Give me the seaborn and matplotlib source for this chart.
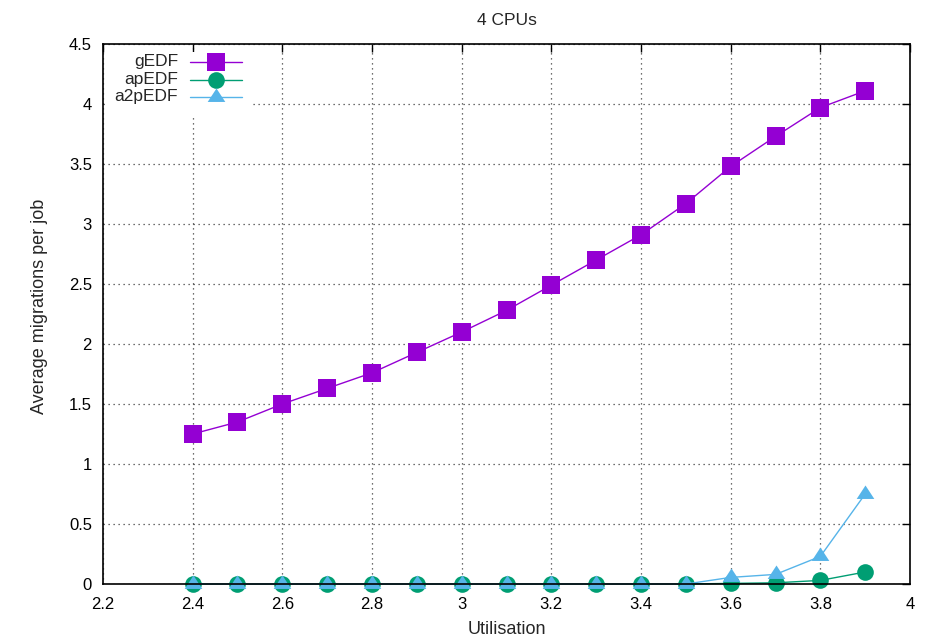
import matplotlib
matplotlib.use("Agg")
import matplotlib.pyplot as plt
from matplotlib.lines import Line2D
from matplotlib.path import Path
import seaborn as sns
import pandas as pd

# Utilisation levels and average migrations per job for each scheduler
utilisation = [2.4, 2.5, 2.6, 2.7, 2.8, 2.9, 3.0, 3.1, 3.2, 3.3, 3.4, 3.5, 3.6, 3.7, 3.8, 3.9]
gedf = [1.25, 1.35, 1.50, 1.63, 1.76, 1.93, 2.10, 2.28, 2.49, 2.70, 2.91, 3.17, 3.48, 3.73, 3.97, 4.11]
apedf = [0.0, 0.0, 0.0, 0.0, 0.0, 0.0, 0.0, 0.0, 0.0, 0.0, 0.0, 0.0, 0.005, 0.01, 0.03, 0.10]
a2pedf = [0.0, 0.0, 0.0, 0.0, 0.0, 0.0, 0.0, 0.0, 0.0, 0.0, 0.0, 0.0, 0.055, 0.08, 0.23, 0.75]

series_names = ["gEDF", "apEDF", "a2pEDF"]
series_values = [gedf, apedf, a2pedf]
series_colors = ["#9400D3", "#009E73", "#56B4E9"]

# Triangle centred on its centroid, like gnuplot's point type 9
triangle = Path([(0, 8.7), (-8.5, -4.3), (8.5, -4.3), (0, 8.7)],
                [Path.MOVETO, Path.LINETO, Path.LINETO, Path.CLOSEPOLY])
series_markers = ["s", "o", triangle]
series_sizes = [12.5, 12.0, 13.0]

x_ticks = [2.2, 2.4, 2.6, 2.8, 3.0, 3.2, 3.4, 3.6, 3.8, 4.0]
x_tick_labels = ["2.2", "2.4", "2.6", "2.8", "3", "3.2", "3.4", "3.6", "3.8", "4"]
y_ticks = [0, 0.5, 1, 1.5, 2, 2.5, 3, 3.5, 4, 4.5]
y_tick_labels = ["0", "0.5", "1", "1.5", "2", "2.5", "3", "3.5", "4", "4.5"]

sns.set_style("white")
plt.rcParams["font.family"] = ["Liberation Sans", "DejaVu Sans"]
plt.rcParams["font.size"] = 12

fig = plt.figure(figsize=(9.27, 6.37), dpi=100)
ax = fig.add_axes([0.1111, 0.0832, 0.8706, 0.8477])

df = pd.DataFrame({"Utilisation": utilisation})
for name, vals in zip(series_names, series_values):
    df[name] = vals

for i, (name, color, marker, ms) in enumerate(zip(series_names, series_colors,
                                                  series_markers, series_sizes)):
    sns.lineplot(data=df, x="Utilisation", y=name, ax=ax, color=color,
                 marker=marker, markersize=ms, markeredgewidth=0,
                 linewidth=1.0, clip_on=False, zorder=3 + i, legend=False)

ax.set_xlim(2.2, 4.0)
ax.set_ylim(0, 4.5)
ax.set_xticks(x_ticks)
ax.set_xticklabels(x_tick_labels)
ax.set_yticks(y_ticks)
ax.set_yticklabels(y_tick_labels)

ax.tick_params(axis="both", which="both", direction="in", length=6, width=1,
               color="black", labelsize=12, labelcolor="black",
               top=True, right=True)
ax.tick_params(axis="x", pad=9)
ax.tick_params(axis="y", pad=8)

ax.grid(True, color="black", linestyle=(0, (1, 3)), linewidth=0.9, alpha=0.75)
ax.set_axisbelow(True)
for sp in ax.spines.values():
    sp.set_color("black")
    sp.set_linewidth(1.2)
    sp.set_zorder(10)

ax.set_title("4 CPUs", fontsize=12.5, pad=14)
ax.set_xlabel("Utilisation", fontsize=13, labelpad=7)
ax.set_ylabel("Average migrations per job", fontsize=13)
ax.yaxis.set_label_coords(-0.068, 0.515)

# Opaque key box in the upper left corner, gnuplot style: right-aligned labels
# followed by a line sample with its marker.
ax.add_patch(plt.Rectangle((0.002, 0.865), 0.18, 0.12, transform=ax.transAxes,
                           facecolor="white", edgecolor="none", zorder=2))
row_y = [0.967, 0.934, 0.902]
for name, color, marker, ms, yy in zip(series_names, series_colors, series_markers,
                                       series_sizes, row_y):
    ax.text(0.093, yy, name, transform=ax.transAxes, ha="right", va="center",
            fontsize=12.5, zorder=12)
    ax.add_line(Line2D([0.108, 0.172], [yy, yy], transform=ax.transAxes,
                       color=color, linewidth=1.0, zorder=12))
    ax.add_line(Line2D([0.140], [yy], transform=ax.transAxes, color=color,
                       marker=marker, markersize=ms, markeredgewidth=0,
                       linestyle="none", zorder=13))

fig.savefig("out.png", dpi=100)
